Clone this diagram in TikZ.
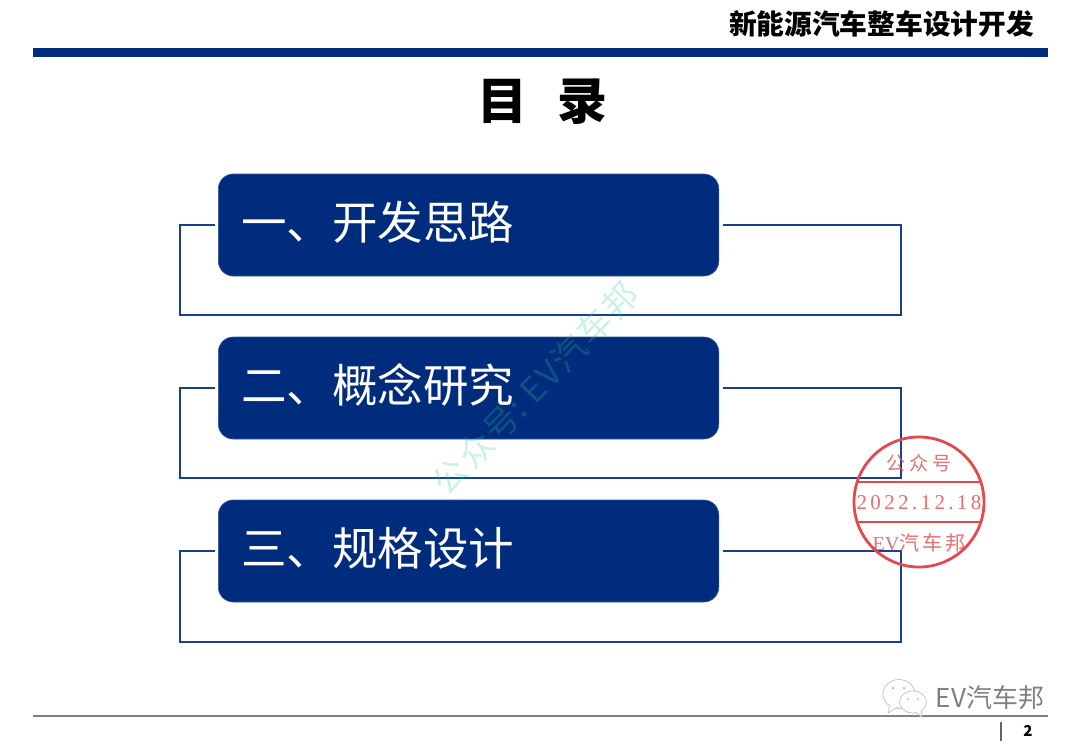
\documentclass[tikz,border=0pt]{standalone}
\usepackage{fontspec}
\setmainfont{Noto Sans CJK SC}
\newfontfamily\stampfont[LetterSpace=16]{Liberation Serif}
\definecolor{navy}{HTML}{002C7E}
\definecolor{linkblue}{HTML}{17408F}
\definecolor{stampred}{HTML}{E5484D}
\definecolor{markgreen}{HTML}{2CC88A}
\begin{document}
\begin{tikzpicture}[x=1pt,y=-1pt]
\tikzstyle{card}=[draw=navy!80!white,line width=0.6pt,fill=navy,text=white,rounded corners=15pt,minimum height=102pt,inner xsep=23pt,inner ysep=0pt,text width=454.5pt,text height=38pt,text depth=10pt,align=left,font=\fontsize{45.5}{50}\selectfont,anchor=west]
\tikzstyle{link}=[draw=linkblue,line width=2.4pt,line join=miter,shorten <=3.5pt,shorten >=3.5pt]
\tikzstyle{stampline}=[draw=stampred,line width=2.8pt]
\tikzstyle{stamptext}=[text=stampred,opacity=0.8,inner sep=0pt]
\useasboundingbox (0,0) rectangle (1080,748);

% header
\path (1034,24) node[anchor=east,inner sep=0pt,font=\fontsize{27.7}{30}\selectfont\bfseries](header){新能源汽车整车设计开发};
\fill[navy] (33,48) rectangle (1048,57);
\path (542,102) node[inner sep=0pt,font=\fontsize{50}{52}\selectfont\bfseries](title){目\hspace{30pt}录};

% cards
\path (218,225) node[card](card1){一、开发思路};
\path (218,388) node[card](card2){二、概念研究};
\path (218,551) node[card](card3){三、规格设计};

% connectors
\coordinate (bl1) at (180,315);
\coordinate (br1) at (901,315);
\coordinate (bl2) at (180,478);
\coordinate (br2) at (901,478);
\coordinate (bl3) at (180,642);
\coordinate (br3) at (901,642);
\draw[link] (card1.west) -| (bl1) -- (br1) |- (card1.east);
\draw[link] (card2.west) -| (bl2) -- (br2) |- (card2.east);
\draw[link] (card3.west) -| (bl3) -- (br3) |- (card3.east);

% watermark
\path (535,388) node[rotate=46,inner sep=0pt,text=markgreen,opacity=0.25,font=\fontsize{34}{36}\selectfont](mark){公\hspace{3pt}众\hspace{3pt}号: E\hspace{2pt}V\hspace{2pt}汽\hspace{3pt}车\hspace{3pt}邦};

% stamp
\draw[stampline] (919,502) circle (65);
\draw[stampline] (857,482) -- (981,482);
\draw[stampline] (857,522) -- (981,522);
\path (919,463) node[stamptext,font=\fontsize{19}{20}\selectfont](stamp1){公\hspace{4pt}众\hspace{4pt}号};
\path (919,503) node[stamptext,font=\fontsize{21}{22}\stampfont](stamp2){2022.12.18};
\path (919,543) node[stamptext,font=\fontsize{20}{21}\selectfont](stamp3){{\fontspec{Liberation Serif}EV}汽\hspace{3pt}车\hspace{3pt}邦};

% footer
\draw[gray,line width=1.4pt] (33,716) -- (1048,716);
\draw[gray!80!black,line width=1.2pt] (1001,722) -- (1001,741);
\path (1028,731) node[inner sep=0pt,font=\fontsize{15}{16}\selectfont\bfseries](page){2};

% wechat mark
\draw[gray!50,line width=0.7pt,fill=white] (899,694) ellipse (16 and 14.5);
\draw[gray!50,line width=0.7pt,fill=white] (890,705) -- (888,713) -- (898,707);
\draw[gray!50,line width=0.7pt,fill=white] (913,702) ellipse (13.5 and 11);
\draw[gray!50,line width=0.7pt,fill=white] (915,712) -- (922,717) -- (921,710);
\fill[gray!50] (893,688) circle (1.5) (904,688) circle (1.5) (908,699) circle (1.2) (918,699) circle (1.2);
\path (990,698) node[inner sep=0pt,text=gray,font=\fontsize{26}{28}\selectfont](brand){EV汽车邦};
\end{tikzpicture}
\end{document}
